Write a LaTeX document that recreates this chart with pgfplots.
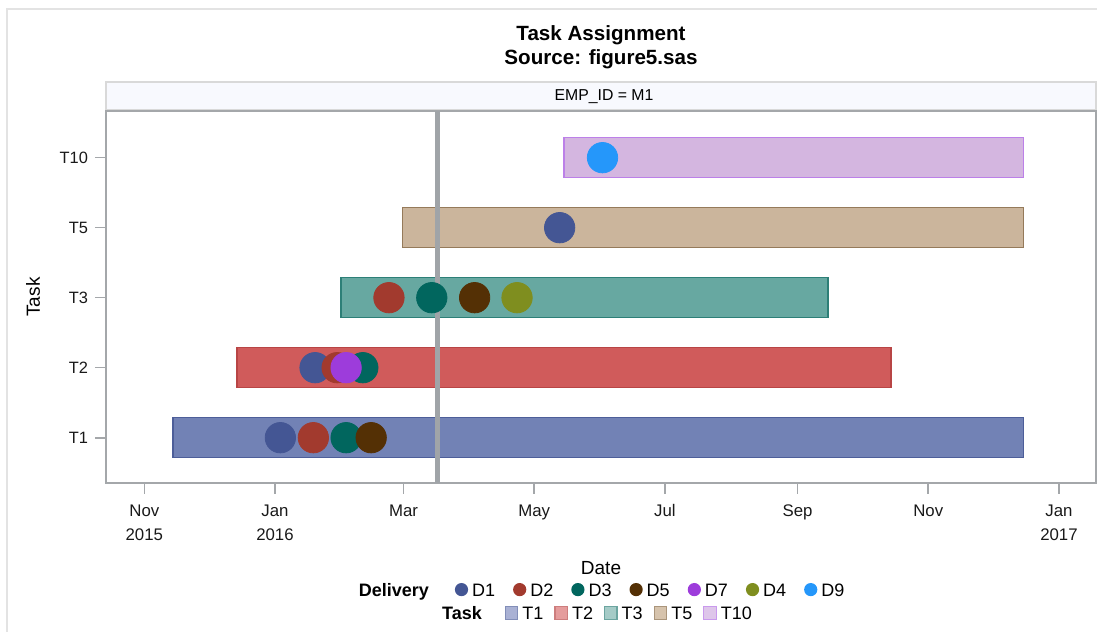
\documentclass[border=0pt]{standalone}
\usepackage{pgfplots}
\pgfplotsset{compat=1.18}
\usepackage{fontspec}
\setmainfont{Liberation Sans}

% delivery marker colours
\definecolor{cD1}{HTML}{445694}
\definecolor{cD2}{HTML}{A23A2E}
\definecolor{cD3}{HTML}{01665E}
\definecolor{cD5}{HTML}{543005}
\definecolor{cD7}{HTML}{9D3CDB}
\definecolor{cD4}{HTML}{7F8E1F}
\definecolor{cD9}{HTML}{2597FA}
% task bar fills / outlines
\definecolor{fT1}{HTML}{7282B5}
\definecolor{eT1}{HTML}{4D5E99}
\definecolor{fT2}{HTML}{D05B5B}
\definecolor{eT2}{HTML}{B84545}
\definecolor{fT3}{HTML}{67A8A1}
\definecolor{eT3}{HTML}{2D7F77}
\definecolor{fT5}{HTML}{CBB59C}
\definecolor{eT5}{HTML}{957A5A}
\definecolor{fT10}{HTML}{D4B6E0}
\definecolor{eT10}{HTML}{BC80E8}
% legend swatches (lighter)
\definecolor{lT1}{HTML}{A9B1D4}
\definecolor{lT2}{HTML}{E59C9C}
\definecolor{lT3}{HTML}{A5CBC7}
\definecolor{lT5}{HTML}{D6C3AC}
\definecolor{lT10}{HTML}{DEC6EA}
\definecolor{axisgray}{HTML}{A4A7AA}
\definecolor{refgray}{HTML}{A0A4A8}
\definecolor{stripfill}{HTML}{F8F9FE}

\newcommand{\ldot}[1]{\tikz[baseline={(0,-3.2bp)}]\fill[#1] (0,0) circle (3.3bp);}
\newcommand{\lsq}[2]{\tikz[baseline={(0,-3.2bp)}]\filldraw[fill=#1,draw=#2,line width=0.6bp] (-3.1bp,-3.1bp) rectangle (3.1bp,3.1bp);}

\begin{document}
\begin{tikzpicture}
\useasboundingbox (0,0) rectangle (548.5bp,316bp);
% outer frame
\draw[gray!22, line width=0.8bp] (3.5bp,0) -- (3.5bp,311.5bp) -- (548.5bp,311.5bp);

% titles
\node[anchor=base, font=\bfseries\fontsize{10.3bp}{12bp}\selectfont] at (300.5bp,295.5bp) {Task Assignment};
\node[anchor=base, font=\bfseries\fontsize{10.3bp}{12bp}\selectfont] at (300.5bp,283.5bp) {Source: figure5.sas};

% panel header strip
\filldraw[fill=stripfill, draw=gray!30, line width=0.8bp] (53bp,261bp) rectangle (548bp,275bp);
\node[anchor=base, font=\fontsize{7.9bp}{9bp}\selectfont] at (302bp,265.5bp) {EMP\_ID = M1};

\begin{axis}[
    at={(53bp,74.5bp)}, anchor=south west,
    width=495bp, height=186bp, scale only axis,
    xmin=-17.9, xmax=444.3,
    ymin=-0.647, ymax=4.667,
    xtick={0,61,121,182,243,305,366,427},
    xticklabels={{Nov\\2015},{Jan\\2016},Mar,May,Jul,Sep,Nov,{Jan\\2017}},
    ytick={0,1,2,3,4},
    yticklabels={T1,T2,T3,T5,T10},
    xtick pos=bottom, ytick pos=left,
    tick align=outside,
    major tick length=5.5bp,
    axis line style={axisgray, line width=0.8bp},
    tick style={axisgray, line width=0.8bp},
    xticklabel style={align=center, font=\fontsize{8.4bp}{12bp}\selectfont, text=black!90, yshift=-1.8bp},
    yticklabel style={font=\fontsize{8.2bp}{10bp}\selectfont, text=black!90},
]
% task bars (start day, end day; days after 1 Nov 2015)
\addplot[fill=fT1, draw=eT1, line width=0.75bp] coordinates {(13.4,-0.286) (410.5,-0.286) (410.5,0.286) (13.4,0.286)} -- cycle;
\addplot[fill=fT2, draw=eT2, line width=0.75bp] coordinates {(43.3,0.714) (348.5,0.714) (348.5,1.286) (43.3,1.286)} -- cycle;
\addplot[fill=fT3, draw=eT3, line width=0.75bp] coordinates {(91.8,1.714) (319.2,1.714) (319.2,2.286) (91.8,2.286)} -- cycle;
\addplot[fill=fT5, draw=eT5, line width=0.75bp] coordinates {(120.6,2.714) (410.5,2.714) (410.5,3.286) (120.6,3.286)} -- cycle;
\addplot[fill=fT10, draw=eT10, line width=0.75bp] coordinates {(195.9,3.714) (410.5,3.714) (410.5,4.286) (195.9,4.286)} -- cycle;
% reference line
\addplot[refgray, line width=2.4bp] coordinates {(136.9,-0.647) (136.9,4.667)};
% deliveries
\addplot[only marks, mark=*, mark size=7.6bp, cD1, mark options={draw=none, fill=cD1}] coordinates {(63.5,0) (79.7,1) (193.9,3)};
\addplot[only marks, mark=*, mark size=7.6bp, cD2, mark options={draw=none, fill=cD2}] coordinates {(78.9,0) (90.0,1) (114.2,2)};
\addplot[only marks, mark=*, mark size=7.6bp, cD3, mark options={draw=none, fill=cD3}] coordinates {(94.2,0) (102.0,1) (134.2,2)};
\addplot[only marks, mark=*, mark size=7.6bp, cD5, mark options={draw=none, fill=cD5}] coordinates {(105.9,0) (154.2,2)};
\addplot[only marks, mark=*, mark size=7.6bp, cD7, mark options={draw=none, fill=cD7}] coordinates {(94.2,1)};
\addplot[only marks, mark=*, mark size=7.6bp, cD4, mark options={draw=none, fill=cD4}] coordinates {(174.0,2)};
\addplot[only marks, mark=*, mark size=7.6bp, cD9, mark options={draw=none, fill=cD9}] coordinates {(213.9,4)};
\end{axis}

% axis labels
\node[rotate=90, font=\fontsize{9.5bp}{11bp}\selectfont] at (16.5bp,167.5bp) {Task};
\node[anchor=base, font=\fontsize{9.5bp}{11bp}\selectfont] at (300.5bp,29bp) {Date};

% legend
\node[anchor=base, font=\fontsize{9bp}{10bp}\selectfont, inner sep=0pt] at (300.8bp,18bp)
  {\textbf{Delivery}\hspace{13bp}\ldot{cD1}\hspace{2bp}D1\hspace{9bp}\ldot{cD2}\hspace{2bp}D2\hspace{9bp}\ldot{cD3}\hspace{2bp}D3\hspace{9bp}\ldot{cD5}\hspace{2bp}D5\hspace{9bp}\ldot{cD7}\hspace{2bp}D7\hspace{9bp}\ldot{cD4}\hspace{2bp}D4\hspace{9bp}\ldot{cD9}\hspace{2bp}D9};
\node[anchor=base, font=\fontsize{9bp}{10bp}\selectfont, inner sep=0pt] at (298.5bp,6.3bp)
  {\textbf{Task}\hspace{11.5bp}\lsq{lT1}{eT1!70}\hspace{2bp}T1\hspace{5.5bp}\lsq{lT2}{eT2!70}\hspace{2bp}T2\hspace{5.5bp}\lsq{lT3}{eT3!70}\hspace{2bp}T3\hspace{5.5bp}\lsq{lT5}{eT5!80}\hspace{2bp}T5\hspace{5.5bp}\lsq{lT10}{eT10!80}\hspace{2bp}T10};
\end{tikzpicture}
\end{document}
